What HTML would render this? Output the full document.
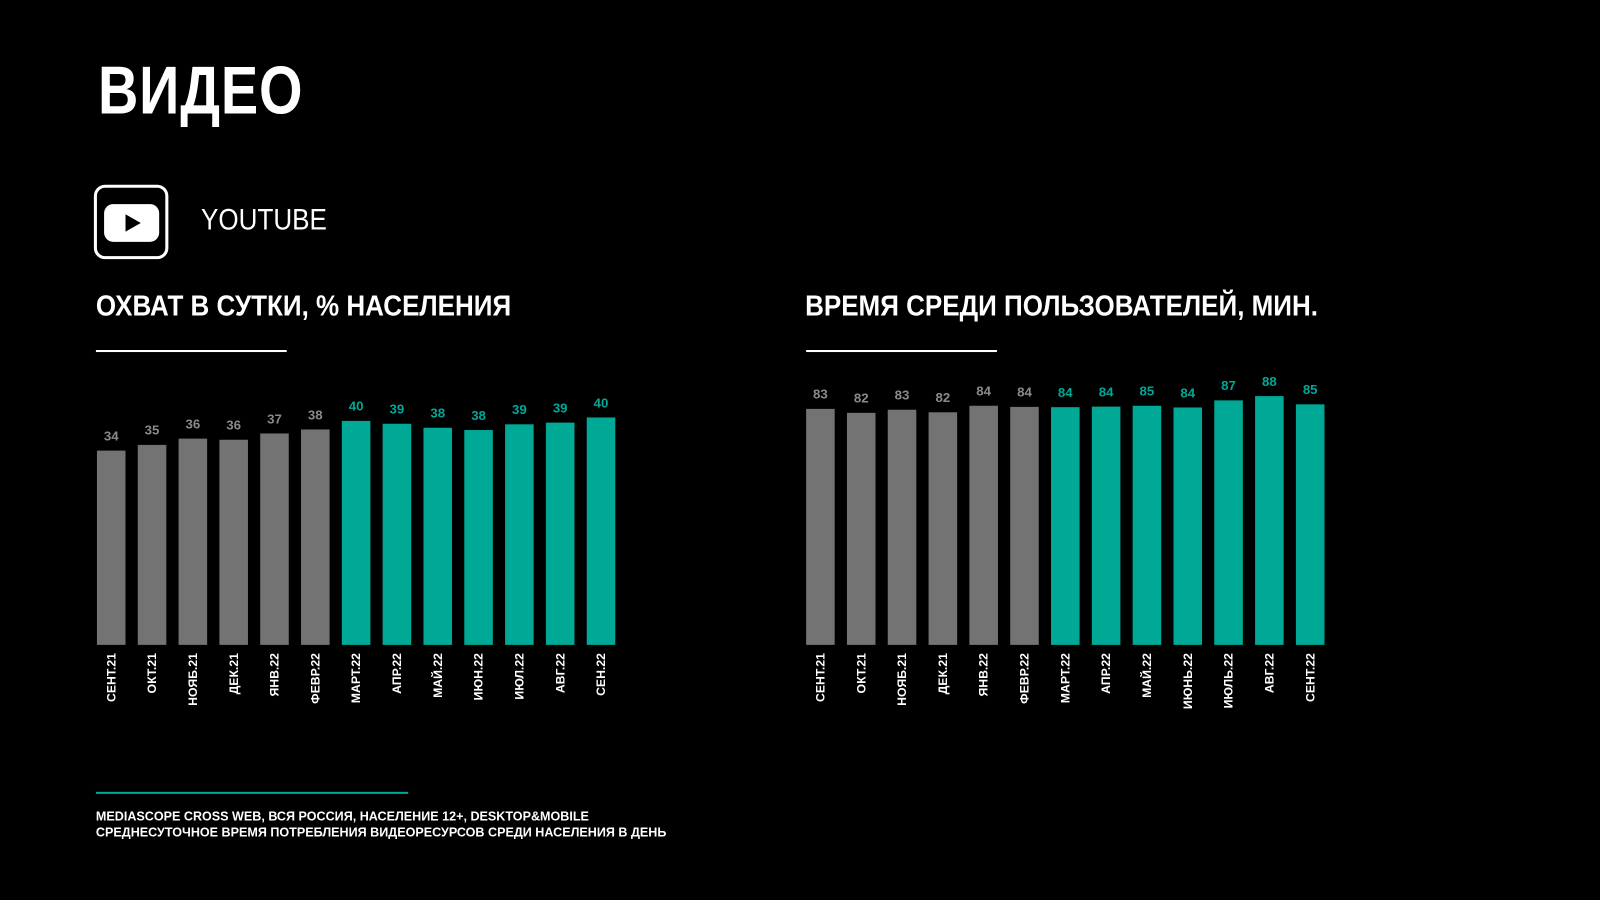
<!DOCTYPE html>
<html><head><meta charset="utf-8"><style>
html,body{margin:0;padding:0;background:#000;width:1600px;height:900px;overflow:hidden}
#wrap{position:absolute;left:0;top:0;width:1568px;height:882px;transform:scale(1.0204);transform-origin:0 0;font-family:"Liberation Sans Narrow","Liberation Sans",sans-serif;color:#fff}
.abs{position:absolute;white-space:nowrap}
</style></head><body>
<div id="wrap">
<div class="abs" style="left:96px;top:50px;font-size:66px;font-weight:bold;letter-spacing:1px;transform:scaleX(0.83);transform-origin:0 0">ВИДЕО</div>
<div class="abs" style="left:92px;top:181px;width:67px;height:67px;border:3px solid #fff;border-radius:11px">
<svg width="67" height="67" style="position:absolute;left:0;top:0"><rect x="7" y="16" width="54" height="37" rx="9" fill="#fff"/><polygon points="28,26 28,43 43,34.5" fill="#000"/></svg></div>
<div class="abs" style="left:197px;top:200px;font-size:29px;transform:scaleX(0.88);transform-origin:0 0">YOUTUBE</div>
<div class="abs" style="left:94px;top:284px;font-size:28px;font-weight:bold;transform:scaleX(0.91);transform-origin:0 0">ОХВАТ В СУТКИ, % НАСЕЛЕНИЯ</div>
<div class="abs" style="left:789px;top:284px;font-size:28px;font-weight:bold;transform:scaleX(0.91);transform-origin:0 0">ВРЕМЯ СРЕДИ ПОЛЬЗОВАТЕЛЕЙ, МИН.</div>
<div class="abs" style="left:94px;top:343px;width:187px;height:2px;background:#fff"></div>
<div class="abs" style="left:790px;top:343px;width:187px;height:2px;background:#fff"></div>
<svg id="c" class="abs" style="left:0;top:0" width="1568" height="882"></svg>
<div class="abs" style="left:94px;top:776px;width:306px;height:2px;background:#00a896"></div>
<div class="abs" style="left:94px;top:792px;font-size:12.5px;font-weight:bold;line-height:16px;transform:scaleX(0.985);transform-origin:0 0">MEDIASCOPE CROSS WEB, ВСЯ РОССИЯ, НАСЕЛЕНИЕ 12+, DESKTOP&amp;MOBILE<br>СРЕДНЕСУТОЧНОЕ ВРЕМЯ ПОТРЕБЛЕНИЯ ВИДЕОРЕСУРСОВ СРЕДИ НАСЕЛЕНИЯ В ДЕНЬ</div>
</div>
<script>
const reachCategories=["СЕНТ.21","ОКТ.21","НОЯБ.21","ДЕК.21","ЯНВ.22","ФЕВР.22","МАРТ.22","АПР.22","МАЙ.22","ИЮН.22","ИЮЛ.22","АВГ.22","СЕН.22"];
const reachValues=[34,35,36,36,37,38,40,39,38,38,39,39,40];
const reachExact=[34,35,36.1,35.9,37,37.7,39.2,38.7,38,37.6,38.6,38.9,39.8];
const timeCategories=["СЕНТ.21","ОКТ.21","НОЯБ.21","ДЕК.21","ЯНВ.22","ФЕВР.22","МАРТ.22","АПР.22","МАЙ.22","ИЮНЬ.22","ИЮЛЬ.22","АВГ.22","СЕНТ.22"];
const timeValues=[83,82,83,82,84,84,84,84,85,84,87,88,85];
const timeExact=[83.2,81.8,82.9,82,84.3,83.9,83.8,84,84.3,83.7,86.2,87.7,84.8];
const highlightFrom=6;
const svg=document.getElementById('c');
const NS='http://www.w3.org/2000/svg';
function draw(prefix,cats,vals,exact,x0,scale){
  const base=632,pitch=40,bw=28;
  const xs=i=>x0+i*pitch, ys=v=>base-v*scale;
  cats.forEach((c,i)=>{
    const teal=i>=highlightFrom;
    const r=document.createElementNS(NS,'rect');
    
    
    r.setAttribute('x',xs(i));r.setAttribute('y',ys(exact[i]));
    r.setAttribute('width',bw);r.setAttribute('height',base-ys(exact[i]));
    r.setAttribute('fill',teal?'#00a896':'#737373');
    svg.appendChild(r);
    const t=document.createElementNS(NS,'text');
    
    
    t.setAttribute('x',xs(i)+bw/2);t.setAttribute('y',ys(exact[i])-10);
    t.setAttribute('text-anchor','middle');t.setAttribute('font-size','13');t.setAttribute('font-weight','bold');
    t.setAttribute('font-family','Liberation Sans, sans-serif');
    t.setAttribute('fill',teal?'#00a896':'#8a8a8a');
    t.textContent=vals[i];svg.appendChild(t);
    const l=document.createElementNS(NS,'text');
    
    
    const cx=xs(i)+bw/2+4;
    l.setAttribute('transform','translate('+cx+',640) rotate(-90)');
    l.setAttribute('text-anchor','end');l.setAttribute('font-size','12');l.setAttribute('font-weight','bold');
    l.setAttribute('font-family','Liberation Sans Narrow, Liberation Sans, sans-serif');
    l.setAttribute('fill','#fff');
    l.textContent=c;svg.appendChild(l);
  });
}
draw('reach',reachCategories,reachValues,reachExact,95,5.6);
draw('time',timeCategories,timeValues,timeExact,790,2.78);
</script>
</body></html>
